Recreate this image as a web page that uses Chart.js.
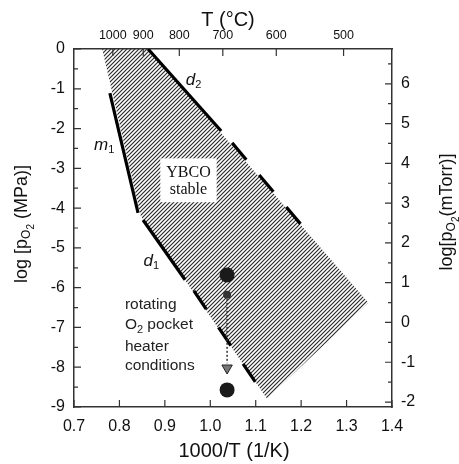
<!DOCTYPE html>
<html>
<head>
<meta charset="utf-8">
<script src="https://cdn.jsdelivr.net/npm/chart.js@4.4.1/dist/chart.umd.min.js"></script>
<style>
  html, body { margin: 0; padding: 0; background: #fff; }
  #wrap { width: 459px; height: 464px; }
</style>
</head>
<body>
<div id="wrap"><canvas id="c" width="459" height="464"></canvas></div>
<script>
// axis ticks
const bottomTicks = [0.7, 0.8, 0.9, 1.0, 1.1, 1.2, 1.3, 1.4];
const leftTicks = [0, -1, -2, -3, -4, -5, -6, -7, -8, -9];
const rightTicks = [-2, -1, 0, 1, 2, 3, 4, 5, 6];
const topTempsC = [1000, 900, 800, 700, 600, 500];
const mTorrOffset = 6.875; // log10(MPa -> mTorr)

// YBCO stable region outline (1000/T, log pO2)
const stableX = [0.762, 0.863, 1.348, 1.125, 0.847, 0.762];
const stableY = [0, 0, -6.38, -8.79, -4.20, 0];

// boundary lines
const m1X = [0.779, 0.841];
const m1Y = [-1.11, -4.12];
const d1SolidX = [0.852, 0.9445];
const d1SolidY = [-4.30, -5.80];
const d1DashX = [0.964, 1.099];
const d1DashY = [-6.08, -8.37];
const d2SolidX = [0.863, 1.024];
const d2SolidY = [0, -2.06];
const d2DashX = [1.048, 1.204];
const d2DashY = [-2.36, -4.47];

// heater conditions
const heaterX = 1.037;
const heaterBigY = [-5.68, -8.57];
const heaterSmallY = [-6.18];
const arrowY = [-6.18, -7.90];
const arrowHeadY = [-8.02];

const pts = (xs, ys) => xs.map((x, i) => ({ x, y: ys[i] }));
const SANS = '"Liberation Sans", Arial, sans-serif';

function hatchPattern() {
  const p = document.createElement('canvas');
  p.width = 4; p.height = 4;
  const g = p.getContext('2d');
  g.strokeStyle = '#2c2c2c';
  g.lineWidth = 1.2;
  g.beginPath();
  g.moveTo(0, 4); g.lineTo(4, 0);
  g.moveTo(-1, 1); g.lineTo(1, -1);
  g.moveTo(3, 5); g.lineTo(5, 3);
  g.stroke();
  return g.createPattern(p, 'repeat');
}

function richText(ctx, segs, cx, cy, rot) {
  ctx.save();
  ctx.translate(cx, cy);
  ctx.rotate(rot);
  let w = 0;
  segs.forEach(s => { ctx.font = s.font; w += ctx.measureText(s.t).width; });
  let px = -w / 2;
  ctx.textAlign = 'left';
  ctx.textBaseline = 'middle';
  segs.forEach(s => {
    ctx.font = s.font;
    ctx.fillText(s.t, px, s.dy || 0);
    px += ctx.measureText(s.t).width;
  });
  ctx.restore();
}

const overlay = {
  id: 'overlay',
  afterDraw(chart) {
    const ctx = chart.ctx;
    const { x, x2, y, y2 } = chart.scales;
    const a = chart.chartArea;
    ctx.save();
    ctx.strokeStyle = '#333';
    ctx.lineWidth = 1.2;
    ctx.beginPath();
    x.ticks.forEach(t => {
      const px = x.getPixelForValue(t.value);
      ctx.moveTo(px, a.bottom); ctx.lineTo(px, a.bottom - 7);
    });
    x2.ticks.forEach(t => {
      const px = x2.getPixelForValue(t.value);
      ctx.moveTo(px, a.top); ctx.lineTo(px, a.top + 7);
    });
    for (let v = -9; v <= 0; v += 0.5) {
      const py = y.getPixelForValue(v);
      const len = Number.isInteger(v) ? 7 : 4;
      ctx.moveTo(a.left, py); ctx.lineTo(a.left + len, py);
    }
    for (let v = -2; v <= 6.5; v += 0.5) {
      const py = y2.getPixelForValue(v);
      const len = Number.isInteger(v) ? 7 : 4;
      ctx.moveTo(a.right, py); ctx.lineTo(a.right - len, py);
    }
    ctx.stroke();

    ctx.fillStyle = '#111';
    // axis titles
    richText(ctx, [{ t: 'T (°C)', font: `20px ${SANS}` }], 228, 20, 0);
    richText(ctx, [{ t: '1000/T (1/K)', font: `20px ${SANS}` }], 234, 451, 0);
    richText(ctx, [
      { t: 'log [p', font: `18px ${SANS}` },
      { t: 'O', font: `12px ${SANS}`, dy: 5 },
      { t: '2', font: `10px ${SANS}`, dy: 9 },
      { t: ' (MPa)]', font: `18px ${SANS}` }
    ], 22, 224, -Math.PI / 2);
    richText(ctx, [
      { t: 'log[p', font: `18px ${SANS}` },
      { t: 'O', font: `12px ${SANS}`, dy: 5 },
      { t: '2', font: `10px ${SANS}`, dy: 9 },
      { t: '(mTorr)]', font: `18px ${SANS}` }
    ], 447, 212, -Math.PI / 2);

    // line labels
    const lab = (main, sub, vx, vy) => {
      const px = x.getPixelForValue(vx), py = y.getPixelForValue(vy);
      ctx.textAlign = 'left';
      ctx.textBaseline = 'middle';
      ctx.font = `italic 17px ${SANS}`;
      ctx.fillText(main, px, py);
      const w = ctx.measureText(main).width;
      ctx.font = `11px ${SANS}`;
      ctx.fillText(sub, px + w, py + 5);
    };
    lab('d', '2', 0.946, -0.78);
    lab('m', '1', 0.744, -2.41);
    lab('d', '1', 0.853, -5.33);

    // YBCO stable box
    const bx = x.getPixelForValue(0.890), by = y.getPixelForValue(-2.75);
    const bx2 = x.getPixelForValue(1.014), by2 = y.getPixelForValue(-3.85);
    ctx.fillStyle = '#fff';
    ctx.fillRect(bx, by, bx2 - bx, by2 - by);
    ctx.fillStyle = '#111';
    ctx.textAlign = 'center';
    ctx.font = `16px "Liberation Serif", serif`;
    const cx = (bx + bx2) / 2;
    ctx.fillText('YBCO', cx, y.getPixelForValue(-3.10));
    ctx.fillText('stable', cx, y.getPixelForValue(-3.55));

    // heater note
    const nx = x.getPixelForValue(0.812);
    ctx.textAlign = 'left';
    ctx.fillStyle = '#222';
    ctx.font = `15.5px ${SANS}`;
    ctx.fillText('rotating', nx, y.getPixelForValue(-6.43));
    ctx.fillText('O', nx, y.getPixelForValue(-6.93));
    const ow = ctx.measureText('O').width;
    ctx.font = `11px ${SANS}`;
    ctx.fillText('2', nx + ow, y.getPixelForValue(-6.93) + 5);
    const sw = ctx.measureText('2').width;
    ctx.font = `15.5px ${SANS}`;
    ctx.fillText(' pocket', nx + ow + sw, y.getPixelForValue(-6.93));
    ctx.fillText('heater', nx, y.getPixelForValue(-7.48));
    ctx.fillText('conditions', nx, y.getPixelForValue(-7.95));
    ctx.restore();
  }
};

const fixed = size => s => {
  if (s.isHorizontal()) s.height = size; else s.width = size;
};

new Chart(document.getElementById('c'), {
  type: 'scatter',
  data: {
    datasets: [
      {
        data: pts(stableX, stableY),
        showLine: true,
        fill: 'shape',
        backgroundColor: hatchPattern(),
        borderColor: 'rgba(0,0,0,0)',
        borderWidth: 0,
        pointRadius: 0,
        order: 10
      },
      { data: pts(m1X, m1Y), showLine: true, borderColor: '#000', borderWidth: 3.2, pointRadius: 0, order: 5 },
      { data: pts(d1SolidX, d1SolidY), showLine: true, borderColor: '#000', borderWidth: 3.2, pointRadius: 0, order: 5 },
      { data: pts(d1DashX, d1DashY), showLine: true, borderColor: '#000', borderWidth: 3.2, borderDash: [22, 22], pointRadius: 0, order: 5 },
      { data: pts(d2SolidX, d2SolidY), showLine: true, borderColor: '#000', borderWidth: 3.2, pointRadius: 0, order: 5 },
      { data: pts(d2DashX, d2DashY), showLine: true, borderColor: '#000', borderWidth: 3.2, borderDash: [22, 20], pointRadius: 0, order: 5 },
      {
        data: pts(arrowY.map(() => heaterX), arrowY),
        showLine: true, borderColor: '#333', borderWidth: 1.5, borderDash: [2, 2], pointRadius: 0, order: 3
      },
      {
        data: pts(arrowHeadY.map(() => heaterX), arrowHeadY),
        pointStyle: 'triangle', rotation: 180, pointRadius: 6,
        backgroundColor: '#777', borderColor: '#222', borderWidth: 1, order: 2
      },
      {
        data: pts(heaterSmallY.map(() => heaterX), heaterSmallY),
        pointRadius: 4, backgroundColor: '#333', borderWidth: 0, order: 1
      },
      {
        data: pts(heaterBigY.map(() => heaterX), heaterBigY),
        pointRadius: 7.5, backgroundColor: '#1a1a1a', borderWidth: 0, order: 0
      }
    ]
  },
  options: {
    responsive: false,
    animation: false,
    devicePixelRatio: 1,
    layout: { padding: 0 },
    plugins: { legend: { display: false }, tooltip: { enabled: false } },
    scales: {
      x: {
        type: 'linear', position: 'bottom', min: 0.7, max: 1.4,
        afterBuildTicks: s => { s.ticks = bottomTicks.map(v => ({ value: v })); },
        afterFit: fixed(57),
        grid: { display: false, drawTicks: false },
        border: { display: true, color: '#333', width: 1.5 },
        ticks: {
          padding: 10, color: '#111', maxRotation: 0, autoSkip: false,
          font: { family: SANS, size: 16 },
          callback: v => v.toFixed(1)
        }
      },
      x2: {
        type: 'linear', position: 'top', min: 0.7, max: 1.4,
        afterBuildTicks: s => { s.ticks = topTempsC.map(t => ({ value: 1000 / (t + 273.15) })); },
        afterFit: fixed(49),
        grid: { display: false, drawTicks: false },
        border: { display: true, color: '#333', width: 1.5 },
        ticks: {
          padding: 6, color: '#111', maxRotation: 0, autoSkip: false,
          font: { family: SANS, size: 12.5 },
          callback: v => String(Math.round(1000 / v - 273.15))
        }
      },
      y: {
        type: 'linear', position: 'left', min: -9, max: 0,
        afterBuildTicks: s => { s.ticks = leftTicks.map(v => ({ value: v })); },
        afterFit: fixed(74),
        grid: { display: false, drawTicks: false },
        border: { display: true, color: '#333', width: 1.5 },
        ticks: { padding: 9, color: '#111', font: { family: SANS, size: 16 }, callback: v => String(v) }
      },
      y2: {
        type: 'linear', position: 'right', min: -9 + mTorrOffset, max: mTorrOffset,
        afterBuildTicks: s => { s.ticks = rightTicks.map(v => ({ value: v })); },
        afterFit: fixed(67),
        grid: { display: false, drawTicks: false },
        border: { display: true, color: '#333', width: 1.5 },
        ticks: { padding: 9, color: '#111', font: { family: SANS, size: 16 }, callback: v => String(v) }
      }
    }
  },
  plugins: [overlay]
});
</script>
</body>
</html>
